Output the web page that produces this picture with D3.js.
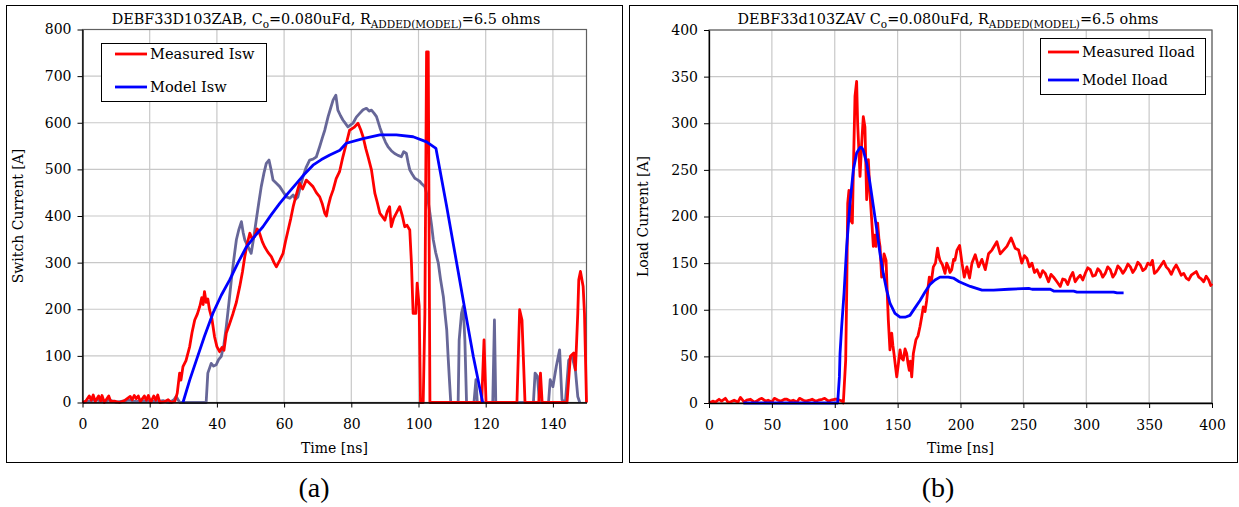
<!DOCTYPE html>
<html>
<head>
<meta charset="utf-8">
<script src="https://cdnjs.cloudflare.com/ajax/libs/d3/7.8.5/d3.min.js"></script>
<style>
  body { margin: 0; background: #fff; }
  .tick text { font-family: "DejaVu Serif", serif; font-size: 14px; fill: #000; }
  .lab { font-family: "DejaVu Serif", serif; fill: #000; }
</style>
</head>
<body>
<div id="chart"></div>
<script>
// ---- panel (a) data : time [ns], switch current [A]
var measIsw = [[0,0],[1,3],[2,14],[2.6,5],[3.2,16],[3.8,2],[4.8,14],[5.4,3],[5.8,15],[6.5,0],[7.8,14],[8.4,2],
  [9.5,3],[11,0],[12.5,4],[14.2,13],[14.8,6],[15.4,15],[16,8],[16.6,14],[17.2,2],[18.4,14],[19,5],[19.6,15],[20.3,0],
  [21.2,14],[21.8,5],[22.4,16],[23,0],[24.5,2],[25.5,6],[26.5,0],[27.5,3],[28.2,20],[28.9,63],[29.3,48],[29.9,77],
  [30.8,90],[31.9,120],[32.6,150],[33.4,177],[34.2,190],[34.9,206],[35.5,225],[35.9,210],[36.3,238],[36.8,215],
  [37.3,222],[37.8,199],[38.5,180],[39.3,141],[40,120],[40.8,109],[41.5,118],[42.1,112],[42.8,149],[43.6,165],
  [44.8,191],[45.8,215],[46.8,249],[47.6,280],[48.3,313],[49,340],[49.8,363],[50.5,350],[51.2,356],[52,372],
  [52.7,363],[53.5,345],[54.2,334],[55.2,322],[56.2,313],[57,300],[57.7,291],[58.7,305],[59.7,320],[60.4,345],
  [61.2,370],[62,395],[62.7,420],[63.6,445],[64.6,470],[65.5,458],[66.6,477],[67.6,470],[68.6,463],[69.6,450],
  [70.6,441],[71.4,425],[72.1,406],[72.6,400],[73.1,420],[73.8,440],[74.6,456],[75.5,480],[76.5,495],[77.5,527],
  [78.5,555],[79.5,584],[80.8,590],[82,599],[82.8,585],[83.5,570],[84.3,545],[85,527],[86,499],[87,449],[87.7,430],
  [88.5,406],[89.3,398],[90,391],[90.7,410],[91.4,420],[91.9,377],[92.6,395],[93.4,406],[94.4,420],[95.2,400],
  [95.9,377],[96.6,380],[97.4,370],[97.9,299],[98.4,191],[99.2,191],[99.6,256],[100.2,206],[100.6,0],[101.4,0],
  [101.9,191],[102.4,752],[102.9,752],[103.4,0],[118.8,0],[119.5,134],[120.1,0],[129.3,0],[130.1,199],[130.8,177],
  [131.7,0],[135.8,0],[136.3,63],[136.8,0],[144.2,0],[145.2,99],[146.2,106],[146.7,70],[147,120],[147.4,191],
  [147.7,263],[148.2,281],[149,249],[149.4,191],[150,0]];

var otherIsw = [[0,0],[2,3],[4,6],[6,2],[8,5],[10,1],[12,3],[14,5],[16,2],[18,4],[20,3],[22,2],[24,4],[25,1],
  [26,0],[27.2,6],[27.9,13],[28.5,5],[29,0],[36.8,0],[37.3,63],[38.3,84],[39,78],[39.8,81],[40.5,92],[41.3,99],
  [42.1,125],[42.8,163],[43.6,215],[44.3,263],[45,305],[45.8,349],[46.5,370],[47.3,388],[47.8,365],[48.3,349],
  [49.3,334],[50.2,320],[51,355],[51.7,391],[52.5,430],[53.2,463],[54,492],[54.7,513],[55.5,520],[56.1,500],
  [56.7,477],[57.7,470],[58.7,463],[59.7,452],[60.7,441],[61.7,438],[62.7,445],[63.4,436],[64.1,441],[64.8,462],
  [65.6,484],[66.6,505],[67.6,520],[68.6,522],[69.6,527],[70.6,549],[71.4,568],[72.1,584],[73.1,613],[73.8,630],
  [74.6,649],[75.4,659],[76,627],[76.8,615],[77.5,606],[78.3,598],[79,591],[80.5,599],[81.5,612],[82.5,620],
  [83.5,628],[84.5,631],[85.3,625],[86,627],[86.8,620],[87.5,613],[88.5,590],[89.5,570],[90.2,558],[90.9,549],
  [91.9,540],[92.9,534],[93.9,530],[94.9,527],[95.6,538],[96.4,534],[96.9,515],[97.4,499],[98.1,490],[98.9,481],
  [99.6,478],[100.4,474],[101.1,468],[101.9,463],[102.7,440],[103.4,406],[103.9,380],[104.4,349],[105.1,322],
  [105.9,299],[106.6,262],[107.4,227],[107.9,190],[108.4,156],[108.8,100],[109.2,49],[109.6,0],[111.8,0],
  [112.1,134],[112.8,191],[113.3,206],[113.8,134],[114.3,0],[116.5,0],[117.1,49],[117.5,0],[122.1,0],[122.6,177],
  [123,0],[134.2,0],[134.7,63],[135.4,56],[136,0],[138.7,0],[139.2,49],[140,34],[141,77],[142,113],[142.7,6],
  [143.7,0],[144.7,91],[145.7,99],[146.7,70],[147.4,13],[148,0]];

var modelIsw = [[29.9,0],[31.9,48],[33.9,91],[36.3,142],[38.8,191],[41.3,230],[43.8,263],[46.3,300],[48.8,334],
  [51.3,357],[53.7,377],[56.2,403],[58.7,427],[61.2,449],[63.7,470],[66.1,490],[68.6,509],[71.1,521],[73.6,531],
  [76.6,541],[78.5,556],[83.5,566],[88.5,574],[93.4,574],[98.4,570],[102.4,559],[105.2,545],[108.4,420],
  [113.3,220],[116.3,99],[119.1,0]];

// ---- panel (b) data : time [ns], load current [A]
var measIload = [[0,0],[3,2],[5,1],[8,4],[10,2],[13,5],[15,1],[17,1],[20,3],[23,1],[25,6],[28,1],[30,3],[33,4],
  [36,1],[38,2],[40,4],[42,5],[45,2],[47,3],[50,1],[52,5],[55,3],[57,2],[60,4],[62,4],[65,2],[67,3],[70,1],[72,5],
  [75,3],[77,2],[80,3],[82,4],[85,2],[87,3],[90,4],[92,5],[95,2],[97,3],[100,4],[102,4],[104,3],[106,2],[106.8,0],
  [108.7,46],[109.5,118],[110.3,214],[111.3,228],[112.7,196],[114,193],[114.8,250],[116.1,329],[117.4,345],
  [118.2,300],[118.8,282],[120.1,243],[121.4,278],[122.7,307],[124,296],[125.4,218],[126.7,261],[128,225],
  [129.4,196],[130.7,168],[131.8,180],[132.8,168],[134.1,193],[135.2,175],[136,168],[137.3,135],[139.2,160],
  [140.8,153],[141.7,120],[142.6,89],[143.9,57],[145.3,75],[146.2,62],[147.1,53],[148.2,40],[149.3,28],[150.6,42],
  [151.9,57],[153.2,48],[154.5,46],[155.9,58],[157.2,53],[158.3,42],[159.3,35],[160.2,45],[161.2,28],[162.5,53],
  [164.6,68],[166.2,72],[167.8,82],[169.1,92],[170.4,103],[171.8,98],[173.1,110],[174.2,124],[175.2,135],
  [176.8,130],[178.4,146],[180.1,150],[181.8,166],[182.7,158],[183.7,153],[185.7,148],[187.7,139],[189,150],
  [190.3,146],[191.6,140],[193,143],[194.5,154],[195.6,153],[197.2,164],[199.3,169],[201.2,150],[203,135],
  [205.1,146],[207.2,134],[209.1,150],[211.7,159],[214.4,146],[217,154],[219.7,143],[222.3,160],[225,164],
  [228.9,173],[231.6,160],[234.2,164],[236.9,168],[240.3,177],[243.5,166],[246.2,164],[248.8,150],[250.8,158],
  [252.8,155],[254.8,146],[256.8,150],[258.8,140],[260.8,143],[263.4,135],[265.4,142],[267.4,139],[270,130],
  [272,138],[274,135],[276.7,130],[279.3,125],[281.3,133],[283.3,132],[285.3,127],[287.3,135],[289.3,140],
  [291.2,130],[293.2,134],[295.2,137],[297.2,132],[299.2,139],[301.2,145],[303.2,143],[305.2,136],[307.2,137],
  [309.2,144],[311.2,141],[313.1,135],[315.1,139],[317.1,146],[319.1,143],[321.1,135],[323.1,139],[325.1,147],
  [327.1,144],[329.1,139],[331.1,143],[333.1,149],[335.1,146],[337,140],[339,144],[341,151],[343,148],[345,142],
  [347,144],[349,150],[351,148],[352.6,153],[354.2,139],[356,141],[357.6,144],[359.6,148],[361.6,152],
  [363.6,146],[365.6,143],[367.6,138],[369.6,144],[371.5,148],[373.5,143],[375.5,137],[377.5,139],[379.5,134],
  [381.5,132],[383.5,137],[385.5,139],[387.5,141],[389.5,135],[391.5,133],[393.4,130],[395.4,136],[397.4,132],
  [399,126],[400,128]];

var modelIload = [[27.3,0],[60,0],[90,0],[102.3,0],[103.7,28],[104.2,53],[105.5,82],[107.4,118],[109.5,168],
  [112.1,214],[114.8,250],[117.4,268],[120.1,274],[121.4,274],[122.7,271],[125.4,257],[128,236],[130.7,211],
  [133.4,186],[136,160],[138.6,139],[141.3,121],[143.9,107],[147.9,96],[151.9,92],[155.9,92],[159.8,94],
  [163.8,102],[167.8,110],[171.8,119],[175.7,127],[179.7,132],[183.7,135],[190.3,135],[194.3,134],[199,130],
  [207.8,125],[217.1,121],[226.3,121],[238.3,122],[254.2,123],[256.9,122],[271.4,122],[274.1,120],[290,120],
  [292.6,119],[321.8,119],[324.5,118],[329.7,118]];

var xTicksA = [0, 20, 40, 60, 80, 100, 120, 140];
var yTicksA = [0, 100, 200, 300, 400, 500, 600, 700, 800];
var xTicksB = [0, 50, 100, 150, 200, 250, 300, 350, 400];
var yTicksB = [0, 50, 100, 150, 200, 250, 300, 350, 400];

var svg = d3.select("#chart").append("svg")
    .attr("width", 1239)
    .attr("height", 507);

svg.append("rect").attr("width", 1239).attr("height", 507).attr("fill", "#fff");

function panel(opt) {
  var g = svg.append("g");

  // outer frame
  g.append("rect")
      .attr("x", opt.frame[0] + 0.5).attr("y", opt.frame[1] + 0.5)
      .attr("width", opt.frame[2]).attr("height", opt.frame[3])
      .attr("fill", "none").attr("stroke", "#000").attr("stroke-width", 1);

  var x = d3.scaleLinear().domain(opt.xdomain).range([opt.left, opt.right]);
  var y = d3.scaleLinear().domain(opt.ydomain).range([opt.bottom, opt.top]);

  // grid
  g.selectAll(".gx").data(opt.xticks.slice(1))
    .enter().append("line")
      .attr("x1", function(d) { return x(d); }).attr("x2", function(d) { return x(d); })
      .attr("y1", opt.top).attr("y2", opt.bottom)
      .attr("stroke", "#c8c8c8").attr("stroke-width", 1.2);
  g.selectAll(".gy").data(opt.yticks.slice(1))
    .enter().append("line")
      .attr("x1", opt.left).attr("x2", opt.right)
      .attr("y1", function(d) { return y(d); }).attr("y2", function(d) { return y(d); })
      .attr("stroke", "#c8c8c8").attr("stroke-width", 1.2);

  // plot area border
  g.append("rect")
      .attr("x", opt.left).attr("y", opt.top)
      .attr("width", opt.right - opt.left).attr("height", opt.bottom - opt.top)
      .attr("fill", "none").attr("stroke", "#606060").attr("stroke-width", 1.2);

  var line = d3.line()
      .x(function(d) { return x(d[0]); })
      .y(function(d) { return y(d[1]); });

  opt.series.forEach(function(s) {
    g.append("path")
        .datum(s.data)
        .attr("d", line)
        .attr("fill", "none")
        .attr("stroke", s.color)
        .attr("stroke-width", 2.8)
        .attr("stroke-linejoin", "round");
  });

  // axes
  g.append("g")
      .attr("transform", "translate(0," + opt.bottom + ")")
      .call(d3.axisBottom(x).tickValues(opt.xticks).tickSize(5).tickSizeOuter(0).tickPadding(12))
      .call(function(a) { a.select(".domain").attr("stroke-width", 1.3); });
  g.append("g")
      .attr("transform", "translate(" + opt.left + ",0)")
      .call(d3.axisLeft(y).tickValues(opt.yticks).tickSize(5).tickSizeOuter(0).tickPadding(6))
      .call(function(a) { a.select(".domain").attr("stroke-width", 1.3); });

  // axis titles
  g.append("text").attr("class", "lab")
      .attr("x", (opt.left + opt.right) / 2).attr("y", opt.bottom + 50)
      .attr("text-anchor", "middle").style("font-size", "14px")
      .text("Time [ns]");
  g.append("text").attr("class", "lab")
      .attr("transform", "translate(" + opt.ylabX + "," + (opt.top + opt.bottom) / 2 + ") rotate(-90)")
      .attr("text-anchor", "middle").style("font-size", "14px")
      .text(opt.ylabel);

  // title with subscripts
  var t = g.append("text").attr("class", "lab")
      .attr("x", opt.titleX).attr("y", 24)
      .attr("text-anchor", "middle").style("font-size", "14.4px");
  t.append("tspan").text(opt.titleHead + " C");
  t.append("tspan").attr("dy", 4).style("font-size", "10.5px").text("o");
  t.append("tspan").attr("dy", -4).text("=0.080uFd, R");
  t.append("tspan").attr("dy", 4).style("font-size", "10.5px").text("ADDED(MODEL)");
  t.append("tspan").attr("dy", -4).text("=6.5 ohms");

  // legend
  var lg = g.append("g");
  var L = opt.legend;
  lg.append("rect")
      .attr("x", L.x + 0.5).attr("y", L.y + 0.5)
      .attr("width", L.w).attr("height", L.h)
      .attr("fill", "#fff").attr("stroke", "#000").attr("stroke-width", 1);
  opt.legendItems.forEach(function(it, i) {
    var yy = L.y + L.rows[i];
    lg.append("line")
        .attr("x1", L.x + L.line[0]).attr("x2", L.x + L.line[1])
        .attr("y1", yy).attr("y2", yy)
        .attr("stroke", it.color).attr("stroke-width", 2.8);
    lg.append("text").attr("class", "lab")
        .attr("x", L.x + L.line[1] + 3).attr("y", yy + 5)
        .style("font-size", L.font + "px")
        .text(it.name);
  });

  // panel caption
  g.append("text")
      .attr("x", opt.capX).attr("y", 497)
      .attr("text-anchor", "middle")
      .style("font-family", "'Liberation Serif', serif").style("font-size", "28px")
      .text(opt.caption);
}

panel({
  frame: [6, 5, 616, 457],
  left: 82.5, right: 586.5, top: 29.5, bottom: 402.5,
  xdomain: [0, 150], ydomain: [0, 800],
  xticks: xTicksA, yticks: yTicksA,
  ylabel: "Switch Current [A]", ylabX: 23,
  titleHead: "DEBF33D103ZAB,", titleX: 326,
  series: [
    {data: otherIsw, color: "#676798"},
    {data: measIsw, color: "#ff0000"},
    {data: modelIsw, color: "#0000ff"}
  ],
  legend: {x: 101, y: 43, w: 165, h: 58, rows: [11, 44], line: [14, 46], font: 14.6},
  legendItems: [{name: "Measured Isw", color: "#ff0000"}, {name: "Model Isw", color: "#0000ff"}],
  caption: "(a)", capX: 314
});

panel({
  frame: [629, 5, 608, 457],
  left: 709, right: 1212, top: 30, bottom: 403,
  xdomain: [0, 400], ydomain: [0, 400],
  xticks: xTicksB, yticks: yTicksB,
  ylabel: "Load Current [A]", ylabX: 648,
  titleHead: "DEBF33d103ZAV", titleX: 948,
  series: [
    {data: measIload, color: "#ff0000"},
    {data: modelIload, color: "#0000ff"}
  ],
  legend: {x: 1040, y: 38, w: 165, h: 56, rows: [14, 42], line: [8, 39], font: 14.2},
  legendItems: [{name: "Measured Iload", color: "#ff0000"}, {name: "Model Iload", color: "#0000ff"}],
  caption: "(b)", capX: 938
});
</script>
</body>
</html>
